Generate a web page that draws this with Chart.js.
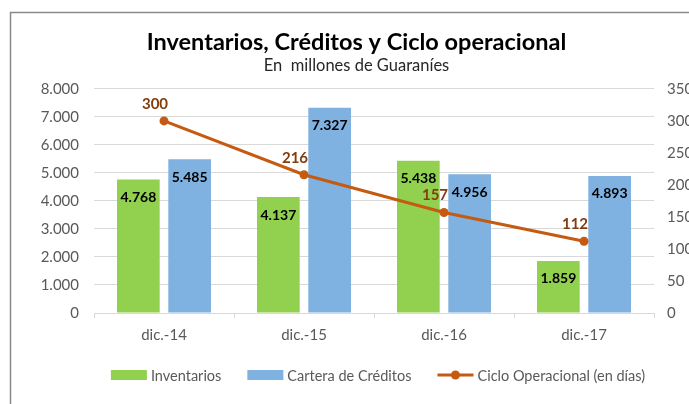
<!DOCTYPE html>
<html>
<head>
<meta charset="utf-8">
<script src="https://cdn.jsdelivr.net/npm/chart.js@4.4.1/dist/chart.umd.min.js"></script>
<style>
  html, body { margin: 0; padding: 0; background: #fff; overflow: hidden; }
  #wrap { position: relative; width: 689px; height: 404px; }
</style>
</head>
<body>
<div id="wrap"><canvas id="canvasCiclo" width="689" height="404"></canvas></div>
<script>
//Datos del grafico
const periodos = ["dic.-14", "dic.-15", "dic.-16", "dic.-17"];
const inventarios = [4768, 4137, 5438, 1859];
const cartera = [5485, 7327, 4956, 4893];
const cicloDias = [300, 216, 157, 112];
const ticksIzq = [0, 1000, 2000, 3000, 4000, 5000, 6000, 7000, 8000];
const ticksDer = [0, 50, 100, 150, 200, 250, 300, 350];

const FUENTE = "Lato, 'Open Sans', sans-serif";
const GRIS = "#595959";

//Formato con punto de miles
function miles(v) {
  return String(v).replace(/\B(?=(\d{3})+(?!\d))/g, ".");
}

//Marco del grafico (recortado a la derecha y abajo)
const marco = {
  id: "marco",
  beforeDraw(chart) {
    const ctx = chart.ctx;
    ctx.save();
    ctx.fillStyle = "#fff";
    ctx.fillRect(0, 0, chart.width, chart.height);
    ctx.strokeStyle = "#8a8a8a";
    ctx.lineWidth = 1.5;
    ctx.strokeRect(10.5, 12.5, 900, 600);
    ctx.restore();
  }
};

//Etiquetas de barras y de la linea
const etiquetas = {
  id: "etiquetas",
  afterDatasetsDraw(chart) {
    const ctx = chart.ctx;
    ctx.save();
    ctx.textAlign = "center";
    ctx.textBaseline = "middle";
    chart.data.datasets.forEach((ds, i) => {
      const meta = chart.getDatasetMeta(i);
      meta.data.forEach((el, j) => {
        if (ds.type === "line") {
          ctx.font = "bold 15px " + FUENTE;
          ctx.fillStyle = "#843C0C";
          ctx.fillText(ds.data[j], el.x - 9, el.y - 17);
        } else {
          ctx.font = "bold 14px " + FUENTE;
          ctx.fillStyle = "#000";
          ctx.fillText(miles(ds.data[j]), el.x, el.y + 18);
        }
      });
    });
    ctx.restore();
  }
};

//Leyenda dibujada a mano (estilo Excel)
const leyenda = {
  id: "leyenda",
  afterDraw(chart) {
    const ctx = chart.ctx;
    const y = 375;
    const anchoMuestra = 36;
    const espacio = 26;
    ctx.save();
    ctx.font = "14.5px " + FUENTE;
    ctx.textBaseline = "middle";
    const items = chart.data.datasets.map(ds => ({ ds: ds, w: anchoMuestra + 4 + ctx.measureText(ds.label).width }));
    let total = items.reduce((a, it) => a + it.w, 0) + espacio * (items.length - 1);
    let x = 378 - total / 2;
    items.forEach(it => {
      const ds = it.ds;
      if (ds.type === "line") {
        ctx.strokeStyle = ds.borderColor;
        ctx.lineWidth = 3;
        ctx.beginPath();
        ctx.moveTo(x, y);
        ctx.lineTo(x + anchoMuestra, y);
        ctx.stroke();
        ctx.fillStyle = ds.borderColor;
        ctx.beginPath();
        ctx.arc(x + anchoMuestra / 2, y, 4.5, 0, Math.PI * 2);
        ctx.fill();
      } else {
        ctx.fillStyle = ds.backgroundColor;
        ctx.fillRect(x, y - 5, anchoMuestra, 10);
      }
      ctx.fillStyle = GRIS;
      ctx.fillText(ds.label, x + anchoMuestra + 4, y + 1);
      x += it.w + espacio;
    });
    ctx.restore();
  }
};

var canvas = document.getElementById("canvasCiclo");
new Chart(canvas, {
  type: "bar",
  data: {
    labels: periodos,
    datasets: [
      {
        label: "Inventarios",
        data: inventarios,
        backgroundColor: "#92D050",
        yAxisID: "y",
        order: 1,
        categoryPercentage: 0.733,
        barPercentage: 0.832
      },
      {
        label: "Cartera de Créditos",
        data: cartera,
        backgroundColor: "#7FB1E1",
        yAxisID: "y",
        order: 1,
        categoryPercentage: 0.733,
        barPercentage: 0.832
      },
      {
        type: "line",
        label: "Ciclo Operacional (en días)",
        data: cicloDias,
        borderColor: "#C55A11",
        backgroundColor: "#C55A11",
        borderWidth: 3,
        pointRadius: 4.5,
        pointHoverRadius: 4.5,
        pointBackgroundColor: "#C55A11",
        pointBorderWidth: 0,
        tension: 0,
        yAxisID: "y1",
        order: 0
      }
    ]
  },
  options: {
    responsive: false,
    animation: false,
    layout: { padding: { left: 24, right: 0, top: 0, bottom: 0 } },
    plugins: {
      legend: { display: false },
      tooltip: { enabled: false },
      title: {
        display: true,
        text: "Inventarios, Créditos y Ciclo operacional",
        color: "#000",
        font: { family: FUENTE, size: 23.5, weight: "bold", lineHeight: 1.2 },
        padding: { top: 27.9, bottom: 0 }
      },
      subtitle: {
        display: true,
        text: "En  millones de Guaraníes",
        color: "#262626",
        font: { family: FUENTE, size: 16.5, lineHeight: 1.2 },
        padding: { top: 0, bottom: 13 }
      }
    },
    scales: {
      x: {
        grid: { display: true, drawOnChartArea: false, drawTicks: true, tickLength: 5, color: "#D9D9D9", offset: true },
        border: { display: true, color: "#D9D9D9" },
        ticks: { color: GRIS, font: { family: FUENTE, size: 15 }, padding: 8 },
        afterFit(scale) { scale.height = 91; }
      },
      y: {
        position: "left",
        min: 0,
        max: 8000,
        afterBuildTicks(scale) { scale.ticks = ticksIzq.map(v => ({ value: v })); },
        grid: { color: "#D9D9D9", drawTicks: false },
        border: { display: false },
        ticks: { color: GRIS, font: { family: FUENTE, size: 15 }, padding: 15, callback: v => miles(v) },
        afterFit(scale) { scale.width = 70; }
      },
      y1: {
        position: "right",
        min: 0,
        max: 350,
        afterBuildTicks(scale) { scale.ticks = ticksDer.map(v => ({ value: v })); },
        grid: { drawOnChartArea: false, drawTicks: false },
        border: { display: false },
        ticks: { color: GRIS, font: { family: FUENTE, size: 15 }, padding: 13 },
        afterFit(scale) { scale.width = 35; }
      }
    }
  },
  plugins: [marco, etiquetas, leyenda]
});
</script>
</body>
</html>
